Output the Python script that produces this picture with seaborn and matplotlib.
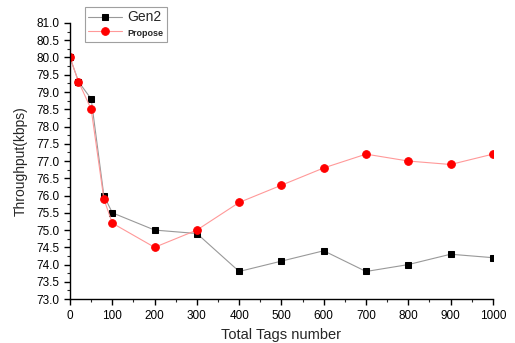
import matplotlib
matplotlib.use("Agg")
import matplotlib.pyplot as plt
import seaborn as sns
import pandas as pd
from matplotlib.ticker import MultipleLocator

tags = [0, 20, 50, 80, 100, 200, 300, 400, 500, 600, 700, 800, 900, 1000]
gen2 = [80.0, 79.3, 78.8, 76.0, 75.5, 75.0, 74.9, 73.8, 74.1, 74.4, 73.8, 74.0, 74.3, 74.2]
propose = [80.0, 79.3, 78.5, 75.9, 75.2, 74.5, 75.0, 75.8, 76.3, 76.8, 77.2, 77.0, 76.9, 77.2]

sns.set_style("white")
plt.rcParams['font.family'] = ['Liberation Sans', 'DejaVu Sans']

fig = plt.figure(figsize=(5.15, 3.43), dpi=100)
ax = fig.add_axes([0.136, 0.128, 0.821, 0.805])

sns.lineplot(x=tags, y=gen2, ax=ax, color='#999999', lw=0.8, marker='s',
             markersize=5, markerfacecolor='black', markeredgecolor='black',
             label='Gen2')
sns.lineplot(x=tags, y=propose, ax=ax, color='#ff9999', lw=0.8, marker='o',
             markersize=5.5, markerfacecolor='red', markeredgecolor='red',
             label='Propose')

ax.set_xlim(0, 1000)
ax.set_ylim(73.0, 81.0)
ax.xaxis.set_major_locator(MultipleLocator(100))
ax.xaxis.set_minor_locator(MultipleLocator(50))
ax.yaxis.set_major_locator(MultipleLocator(0.5))
ax.yaxis.set_minor_locator(MultipleLocator(0.25))
ax.yaxis.set_major_formatter(matplotlib.ticker.FormatStrFormatter('%.1f'))
for s in ['top', 'right']:
    ax.spines[s].set_visible(False)
for s in ['left', 'bottom']:
    ax.spines[s].set_color('black')
    ax.spines[s].set_linewidth(1.0)
ax.tick_params(which='major', direction='out', length=4, width=1, labelsize=8.5,
               left=True, bottom=True, colors='black')
ax.tick_params(which='minor', direction='out', length=2.5, width=0.8,
               left=True, bottom=True)
ax.set_xlabel('Total Tags number', fontsize=10.5, labelpad=5)
ax.set_ylabel('Throughput(kbps)', fontsize=10, labelpad=6)

leg = ax.legend(loc='upper left', bbox_to_anchor=(0.035, 1.058), frameon=True,
                fancybox=False, edgecolor='#888888', borderpad=0.25,
                handlelength=2.4, handletextpad=0.4, labelspacing=0.15,
                fontsize=10, borderaxespad=0)
leg.get_frame().set_linewidth(0.8)
texts = leg.get_texts()
texts[1].set_fontsize(6.5)
texts[1].set_fontweight('bold')

fig.savefig('out.png', dpi=100)
